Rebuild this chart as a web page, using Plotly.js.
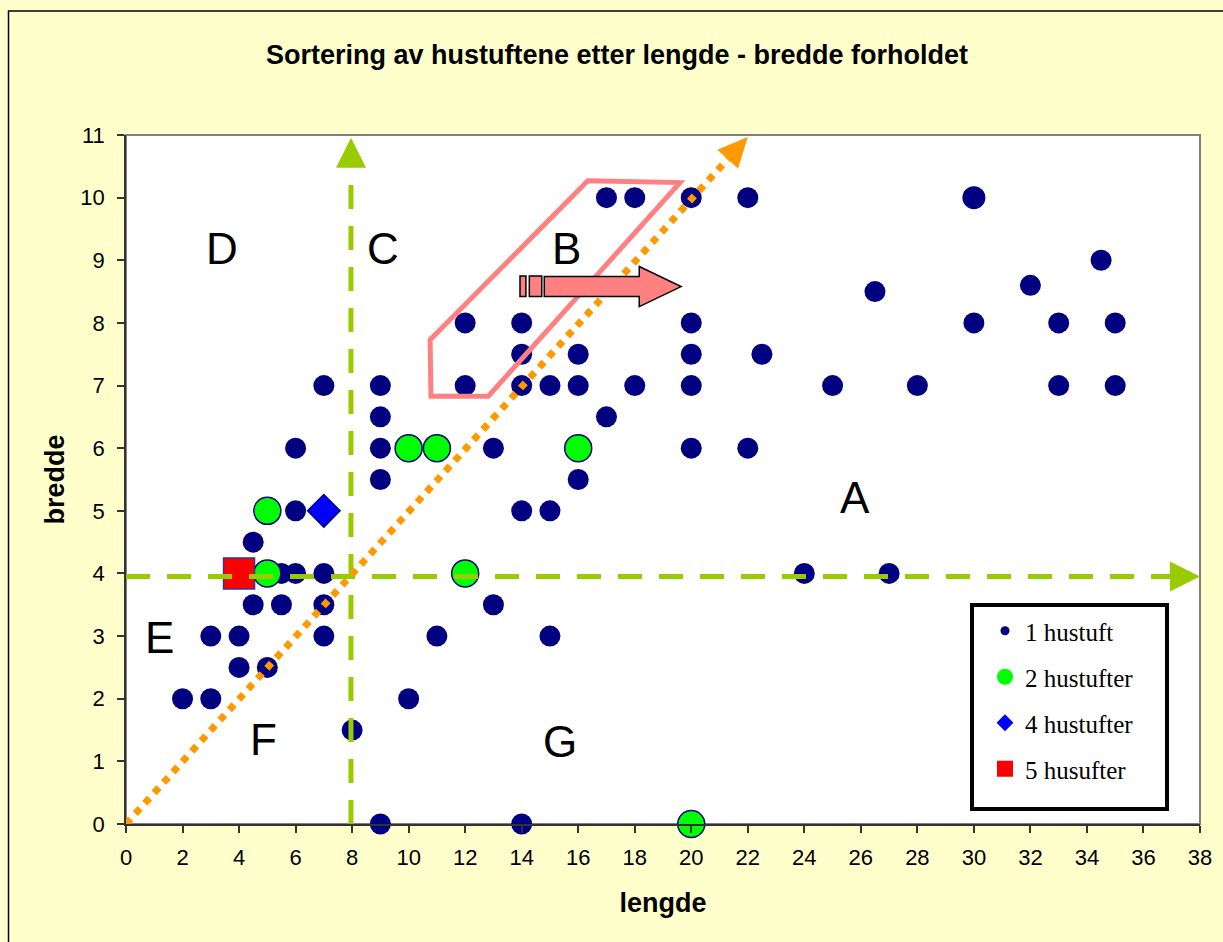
<!DOCTYPE html>
<html><head><meta charset="utf-8">
<script src="https://cdn.plot.ly/plotly-3.0.1.min.js"></script>
<style>html,body{margin:0;padding:0;background:#FFFFCC;}#chart{width:1223px;height:942px;}</style>
</head><body><div id="chart"></div>
<script>
// ---- data: 1 hustuft ----
const lengde1 = [2,3,3,4,4,5,4.5,5.5,4.5,5.5,6,7,7,7,6,6,7,8,9,9,9,9,9,10,11,12,12,13,13,14,14,14,14,14,15,15,15,16,16,16,17,17,18,18,20,20,20,20,20,22,22,22.5,24,25,26.5,27,28,30,32,33,33,34.5,35,35];
const bredde1 = [2,2,3,3,2.5,2.5,3.5,3.5,4.5,4,4,4,3.5,3,5,6,7,1.5,0,5.5,6,6.5,7,2,3,7,8,6,3.5,0,5,7,7.5,8,3,5,7,5.5,7,7.5,6.5,10,7,10,6,7,7.5,8,10,6,10,7.5,4,7,8.5,4,7,8,8.6,7,8,9,7,8];
// overlapping point drawn slightly larger
const lengde1b = [30];
const bredde1b = [10];
// ---- 2 hustufter ----
const lengde2 = [5,5,10,11,12,16,20];
const bredde2 = [5,4,6,6,4,6,0];
// ---- 4 hustufter ----
const lengde4 = [7];
const bredde4 = [5];
// ---- 5 husufter ----
const lengde5 = [4];
const bredde5 = [4];
// ---- labels ----
const seriesNames = ['1 hustuft','2 hustufter','4 hustufter','5 husufter'];
const zoneLabels = ['D','C','B','A','E','F','G'];
const zoneX = [3.39,9.08,15.59,25.81,1.2,4.86,15.36];
const zoneY = [9.19,9.19,9.19,5.21,2.97,1.35,1.32];
const chartTitle = 'Sortering av hustuftene etter lengde - bredde forholdet';
const xTitle = 'lengde';
const yTitle = 'bredde';

const W=1223,H=942,ML=126,MR=23,MT=135,MB=118;
const XMAX=38,YMAX=11;
const pxX=(W-ML-MR)/XMAX, pxY=(H-MT-MB)/YMAX;

const navy='#000080', green='#00FF00', lime='#99CC00', orange='#FF9900', pink='#FF8080';

const traces=[
 {x:lengde1,y:bredde1,type:'scatter',mode:'markers',showlegend:false,cliponaxis:false,hoverinfo:'x+y',
  marker:{color:navy,size:21,line:{width:0}}},
 {x:lengde1b,y:bredde1b,type:'scatter',mode:'markers',showlegend:false,cliponaxis:false,
  marker:{color:navy,size:23,line:{width:0}}},
 {x:lengde2,y:bredde2,type:'scatter',mode:'markers',showlegend:false,cliponaxis:false,
  marker:{color:green,size:27,line:{color:navy,width:1.5}}},
 {x:lengde4,y:bredde4,type:'scatter',mode:'markers',showlegend:false,cliponaxis:false,
  marker:{color:'#0000FF',symbol:'diamond',size:25,line:{color:navy,width:1.5}}},
 {x:lengde5,y:bredde5,type:'scatter',mode:'markers',showlegend:false,cliponaxis:false,
  marker:{color:'#FF0000',symbol:'square',size:31,line:{color:'#333399',width:1.5}}},
 // legend entries
 {x:[null],y:[null],type:'scatter',mode:'markers',name:seriesNames[0],legendgroup:'a',marker:{color:navy,size:9}},
 {x:[null],y:[null],type:'scatter',mode:'markers',name:seriesNames[1],legendgroup:'b',marker:{color:green,size:18}},
 {x:[null],y:[null],type:'scatter',mode:'markers',name:seriesNames[2],legendgroup:'c',marker:{color:'#0000FF',symbol:'diamond',size:13}},
 {x:[null],y:[null],type:'scatter',mode:'markers',name:seriesNames[3],legendgroup:'d',marker:{color:'#FF0000',symbol:'square',size:17}}
];

// orange diagonal arrow geometry
const tipX=22, tipY=10.97;
const ddx=tipX*pxX, ddy=tipY*pxY, dl=Math.hypot(ddx,ddy);
const ux=ddx/dl, uy=ddy/dl, nx=-uy, ny=ux;
const HL=30, HW=14;
const bx=-HL*ux, by=-HL*uy;
const oPath=`M0,0 L${bx+HW*nx},${by+HW*ny} L${bx-HW*nx},${by-HW*ny} Z`;

const hY=3.95, vX=7.96;
const shapes=[
 // outer chart frame
 {type:'rect',xref:'paper',yref:'paper',x0:(8.5-ML)/(W-ML-MR),x1:1.3,y0:-0.5,y1:(H-MB-11)/(H-MT-MB),line:{color:'#000',width:1.5},fillcolor:'rgba(0,0,0,0)',layer:'below'},
 // plot border
 {type:'rect',xref:'paper',yref:'paper',x0:0,x1:1,y0:0,y1:1,line:{color:'#808080',width:2},layer:'below'},
 // green dashed horizontal
 {type:'line',x0:0,x1:XMAX-30/pxX,y0:hY,y1:hY,line:{color:lime,width:5,dash:'24px,17px'},layer:'above'},
 {type:'path',xsizemode:'pixel',ysizemode:'pixel',xanchor:XMAX,yanchor:hY,path:'M0,0 L-30,15 L-30,-15 Z',fillcolor:lime,line:{width:0},layer:'above'},
 // green dashed vertical
 {type:'line',x0:vX,x1:vX,y0:0,y1:10.956-30/pxY,line:{color:lime,width:5,dash:'24px,17px'},layer:'above'},
 {type:'path',xsizemode:'pixel',ysizemode:'pixel',xanchor:vX,yanchor:10.956,path:'M0,0 L-15,-30 L15,-30 Z',fillcolor:lime,line:{width:0},layer:'above'},
 // orange dotted diagonal
 {type:'line',x0:0,y0:0,x1:tipX+bx/pxX,y1:tipY+by/pxY,line:{color:orange,width:7,dash:'7px,7px'},layer:'above'},
 {type:'path',xsizemode:'pixel',ysizemode:'pixel',xanchor:tipX,yanchor:tipY,path:oPath,fillcolor:orange,line:{width:0},layer:'above'},
 // pink outline polygon
 {type:'path',path:'M10.76,7.73 L10.79,6.83 L12.82,6.83 L19.60,10.24 L16.34,10.27 Z',line:{color:pink,width:5},fillcolor:'rgba(0,0,0,0)',layer:'above'},
 // pink striped arrow
 {type:'path',path:'M13.94,8.42 L14.15,8.42 L14.15,8.75 L13.94,8.75 Z',fillcolor:pink,line:{color:'#000',width:1.5},layer:'above'},
 {type:'path',path:'M14.27,8.42 L14.71,8.42 L14.71,8.75 L14.27,8.75 Z',fillcolor:pink,line:{color:'#000',width:1.5},layer:'above'},
 {type:'path',path:'M14.80,8.42 L18.16,8.42 L18.16,8.26 L19.64,8.58 L18.16,8.90 L18.16,8.74 L14.80,8.74 Z',fillcolor:pink,line:{color:'#000',width:1.5},layer:'above'},
 // legend box
 {type:'rect',xref:'paper',yref:'paper',x0:(972-ML)/(W-ML-MR),x1:(1167-ML)/(W-ML-MR),y0:(H-MB-809)/(H-MT-MB),y1:(H-MB-605)/(H-MT-MB),line:{color:'#000',width:4},fillcolor:'#FFFFFF',layer:'above'}
];

const annotations=zoneLabels.map((t,i)=>({x:zoneX[i],y:zoneY[i],text:t,showarrow:false,font:{family:'Liberation Sans, Arial, sans-serif',size:44,color:'#000'},xanchor:'center',yanchor:'middle'}));

const axisCommon={showgrid:false,zeroline:false,showline:true,linecolor:'#333',linewidth:1.5,ticks:'outside',ticklen:7,tickwidth:1.5,tickcolor:'#333',
 tickfont:{family:'Liberation Sans, Arial, sans-serif',size:22,color:'#000'},fixedrange:true};

const layout={
 width:W,height:H,margin:{l:ML,r:MR,t:MT,b:MB,pad:0},
 paper_bgcolor:'#FFFFCC',plot_bgcolor:'#FFFFFF',
 title:{text:chartTitle,x:617/W,xanchor:'center',y:1-55/H,yanchor:'middle',font:{family:'Liberation Sans, Arial, sans-serif',size:27,weight:700,color:'#000'}},
 xaxis:Object.assign({},axisCommon,{range:[0,XMAX],dtick:2,tick0:0,ticklabelstandoff:6,
   title:{text:xTitle,standoff:24,font:{family:'Liberation Sans, Arial, sans-serif',size:27,weight:700,color:'#000'}}}),
 yaxis:Object.assign({},axisCommon,{range:[0,YMAX],dtick:1,tick0:0,ticklabelstandoff:8,
   title:{text:yTitle,standoff:8,font:{family:'Liberation Sans, Arial, sans-serif',size:27,weight:700,color:'#000'}}}),
 showlegend:true,
 legend:{x:(985-ML)/(W-ML-MR),xanchor:'left',y:(H-MB-608)/(H-MT-MB),yanchor:'top',bgcolor:'rgba(0,0,0,0)',borderwidth:0,
   font:{family:'Liberation Serif, Times New Roman, serif',size:25,color:'#000'},tracegroupgap:10.5,traceorder:'grouped',itemclick:false,itemdoubleclick:false},
 shapes:shapes,annotations:annotations,hovermode:'closest'
};
Plotly.newPlot('chart',traces,layout,{displayModeBar:false,staticPlot:false});
</script></body></html>
